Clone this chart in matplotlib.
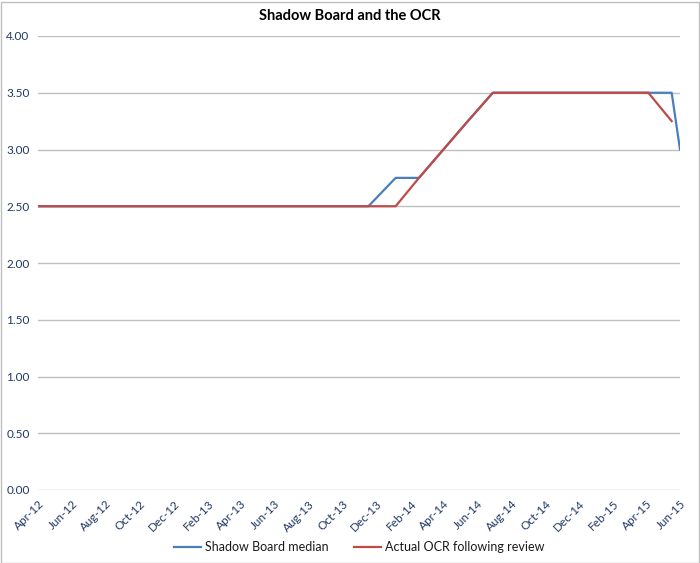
import numpy as np
import pandas as pd
import matplotlib
matplotlib.use("Agg")
import matplotlib.pyplot as plt
import matplotlib.dates as mdates
from matplotlib.patches import Rectangle

# review dates (plotted on a date axis); last date is the final shadow board poll
dates = pd.to_datetime([
    "2012-04-26", "2012-06-14", "2012-07-26", "2012-09-13", "2012-10-25", "2012-12-06",
    "2013-01-31", "2013-03-14", "2013-04-25", "2013-06-13", "2013-07-25", "2013-09-12",
    "2013-10-31", "2013-12-12",
    "2014-01-30", "2014-03-13", "2014-04-26", "2014-06-09", "2014-07-24", "2014-09-11",
    "2014-10-23", "2014-12-11",
    "2015-01-29", "2015-03-12", "2015-04-30", "2015-06-11", "2015-06-26",
])
shadow_median = [2.50, 2.50, 2.50, 2.50, 2.50, 2.50,
                 2.50, 2.50, 2.50, 2.50, 2.50, 2.50,
                 2.50, 2.50,
                 2.75, 2.75, 3.00, 3.25, 3.50, 3.50,
                 3.50, 3.50,
                 3.50, 3.50, 3.50, 3.50, 3.00]
actual_ocr = [2.50, 2.50, 2.50, 2.50, 2.50, 2.50,
              2.50, 2.50, 2.50, 2.50, 2.50, 2.50,
              2.50, 2.50,
              2.50, 2.75, 3.00, 3.25, 3.50, 3.50,
              3.50, 3.50,
              3.50, 3.50, 3.50, 3.25, np.nan]

series_names = ["Shadow Board median", "Actual OCR following review"]
title = "Shadow Board and the OCR"

plt.rcParams["font.family"] = ["Lato", "DejaVu Sans"]
text_col = "#1f3864"

fig = plt.figure(figsize=(7.0, 5.63), dpi=100)
ax = fig.add_axes([38 / 700, 1 - 490 / 563, 642 / 700, 454 / 563])

ax.plot(dates, shadow_median, color="#4a7ebb", lw=1.6, label=series_names[0], zorder=3)
ax.plot(dates, actual_ocr, color="#be4b48", lw=1.6, label=series_names[1], zorder=3)

# axis min at first date, ticks every two months from there (Excel-style)
xmin, xmax = dates[0], dates[-1]
ax.set_xlim(xmin, xmax)
ticks = pd.date_range(xmin, periods=20, freq=pd.DateOffset(months=2))
ticks = [t for t in ticks if t <= xmax]
ax.set_xticks(ticks)
ax.xaxis.set_major_formatter(mdates.DateFormatter("%b-%y"))
plt.setp(ax.get_xticklabels(), rotation=45, ha="right", va="top",
         rotation_mode="anchor", fontsize=8.5, color=text_col)

ax.set_ylim(0, 4)
ax.set_yticks(np.arange(0, 4.01, 0.5))
ax.set_yticklabels([f"{v:.2f}" for v in np.arange(0, 4.01, 0.5)], fontsize=8.5, color=text_col)
ax.tick_params(axis="both", length=0)
ax.tick_params(axis="y", pad=6)
ax.tick_params(axis="x", pad=6)
ax.grid(axis="y", color="#bfbfbf", lw=1)
ax.set_axisbelow(True)
for s in ax.spines.values():
    s.set_visible(False)

fig.suptitle(title, x=0.5, y=1 - 16 / 563, va="center", fontsize=10.5,
             fontweight="bold", color="black")

ax.legend(loc="center", bbox_to_anchor=(0.5, (547 - 490) / -454), ncol=2,
          frameon=False, fontsize=9, handlelength=2.2, columnspacing=2.0,
          handletextpad=0.3, labelcolor="#1a1a1a")

fig.patches.append(Rectangle((0.5 / 700, 0.5 / 563), 698 / 700, 561 / 563,
                             transform=fig.transFigure, fill=False,
                             edgecolor="#bfbfbf", lw=1))

fig.savefig("out.png", dpi=100)
